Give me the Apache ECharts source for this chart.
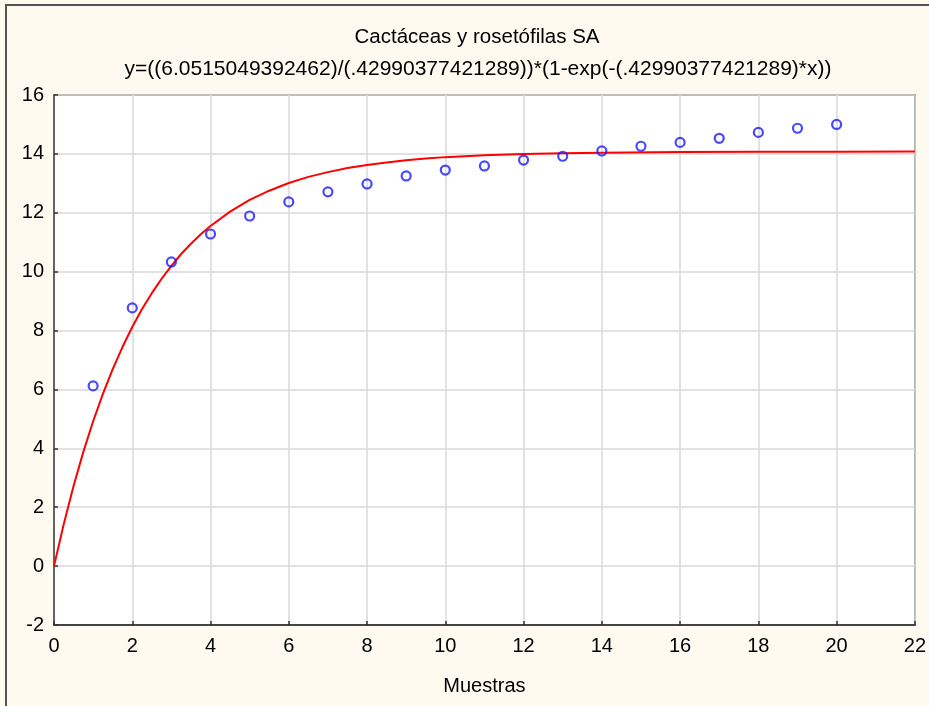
<!DOCTYPE html>
<html>
<head>
<meta charset="utf-8">
<script src="https://cdn.jsdelivr.net/npm/echarts@6/dist/echarts.min.js"></script>
<style>
html,body{margin:0;padding:0;background:#FFFAEF;}
#chart{width:929px;height:706px;}
</style>
</head>
<body>
<div id="chart"></div>
<script>
var titleText = 'Cactáceas y rosetófilas SA';
var formulaText = 'y=((6.0515049392462)/(.42990377421289))*(1-exp(-(.42990377421289)*x))';
var xAxisName = 'Muestras';

// observed points (Muestras 1..20)
var sampleX = [1,2,3,4,5,6,7,8,9,10,11,12,13,14,15,16,17,18,19,20];
var sampleY = [6.12,8.77,10.33,11.28,11.89,12.37,12.71,12.98,13.25,13.45,13.59,13.79,13.92,14.10,14.26,14.39,14.53,14.73,14.87,15.00];

// fitted curve
var curveX = [0,0.25,0.5,0.75,1,1.25,1.5,1.75,2,2.25,2.5,2.75,3,3.25,3.5,3.75,4,4.5,5,5.5,6,6.5,7,7.5,8,8.5,9,9.5,10,11,12,13,14,16,18,20,22];
var curveY = [0,1.43,2.72,3.88,4.92,5.85,6.69,7.44,8.12,8.73,9.27,9.76,10.20,10.60,10.95,11.27,11.55,12.04,12.44,12.75,13.01,13.22,13.38,13.52,13.62,13.71,13.78,13.84,13.89,13.95,14.00,14.02,14.04,14.06,14.07,14.07,14.08];

var chart = echarts.init(document.getElementById('chart'), null, {renderer:'canvas'});
var font = 'Liberation Sans, Arial, sans-serif';
chart.setOption({
  backgroundColor: '#FFFAEF',
  animation: false,
  title: [
    {text: titleText, left: 477, top: 27, textAlign: 'center', padding: 0,
     textStyle: {fontFamily: font, fontSize: 20.5, fontWeight: 'normal', color: '#000'}},
    {text: formulaText, left: 478, top: 59, textAlign: 'center', padding: 0,
     textStyle: {fontFamily: font, fontSize: 21, fontWeight: 'normal', color: '#000'}}
  ],
  graphic: [
    {type: 'rect', shape: {x: 6, y: 5, width: 1000, height: 1000},
     style: {fill: 'none', stroke: '#555', lineWidth: 2}, silent: true}
  ],
  grid: {left: 54, top: 95, right: 8, bottom: 81, show: true, backgroundColor: '#fff',
         borderColor: '#444', borderWidth: 1.5},
  xAxis: {
    type: 'value', min: 0, max: 22, interval: 2,
    name: xAxisName, nameLocation: 'middle', nameGap: 51,
    nameTextStyle: {fontFamily: font, fontSize: 20, color: '#000'},
    axisLine: {show: true, onZero: false, lineStyle: {color: '#444', width: 2}},
    axisTick: {show: true, inside: true, length: 4, lineStyle: {color: '#333', width: 1.5}},
    axisLabel: {fontFamily: font, fontSize: 20, color: '#000', margin: 11},
    splitLine: {show: true, lineStyle: {color: '#d9d9d9', width: 1.5}}
  },
  yAxis: {
    type: 'value', min: -2, max: 16, interval: 2,
    axisLine: {show: true, onZero: false, lineStyle: {color: '#444', width: 1.5}},
    axisTick: {show: true, inside: true, length: 4, lineStyle: {color: '#333', width: 1.5}},
    axisLabel: {fontFamily: font, fontSize: 20, color: '#000', margin: 10},
    splitLine: {show: true, lineStyle: {color: '#d9d9d9', width: 1.5}}
  },
  series: [
    {type: 'line', data: curveX.map(function(x,i){return [x, curveY[i]];}),
     smooth: false, showSymbol: false, symbol: 'none',
     lineStyle: {color: '#ff0000', width: 2}, z: 2},
    {type: 'scatter', data: sampleX.map(function(x,i){return [x, sampleY[i]];}),
     symbol: 'circle', symbolSize: 9,
     itemStyle: {color: 'rgba(255,255,255,0)', borderColor: '#1a1aff', borderWidth: 2.2}, z: 3}
  ]
});
</script>
</body>
</html>
